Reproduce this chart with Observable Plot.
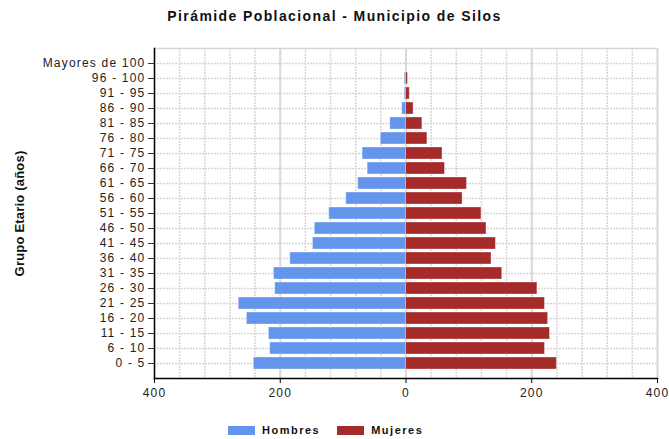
<!DOCTYPE html>
<html><head><meta charset="utf-8">
<script src="https://cdn.jsdelivr.net/npm/d3@7"></script>
<script src="https://cdn.jsdelivr.net/npm/@observablehq/plot@0.6"></script>
<style>
body{margin:0;background:#fff;font-family:"Liberation Sans",Arial,sans-serif;}
#wrap{position:relative;width:669px;height:439px;overflow:hidden;background:#fff}
#title{position:absolute;left:0;top:0;width:669px;height:32px;line-height:32px;text-align:center;font-weight:bold;font-size:14px;letter-spacing:1.4px;color:#111;}
#chart{position:absolute;left:0;top:32px}
#legend{position:absolute;left:228px;top:422px;height:16px;display:flex;align-items:center;font-weight:bold;font-size:11px;letter-spacing:1.5px;color:#111;white-space:nowrap}
.sw{width:27px;height:9px;display:inline-block}
#chart g[aria-label="text"] text{letter-spacing:0.2px}
</style></head>
<body>
<div id="wrap">
  <div id="title">Pirámide Poblacional - Municipio de Silos</div>
  <div id="chart"></div>
  <div id="legend"></div>
</div>
<script>
const groups = ["0 - 5","6 - 10","11 - 15","16 - 20","21 - 25","26 - 30","31 - 35","36 - 40","41 - 45","46 - 50","51 - 55","56 - 60","61 - 65","66 - 70","71 - 75","76 - 80","81 - 85","86 - 90","91 - 95","96 - 100","Mayores de 100"];
const hombres = [242,216,218,253,266,208,210,184,148,145,122,95,76,61,69,40,25,6,2,2,0];
const mujeres = [240,221,229,226,221,209,153,136,143,128,120,90,97,62,58,34,26,12,6,3,0];
const series = ["Hombres","Mujeres"];
const colors = ["#6495ED","#A52A2A"];
const xTicks = [-400,-200,0,200,400];

const data = groups.flatMap((g,i)=>[
  {group:g, sexo:series[0], value:-hombres[i]},
  {group:g, sexo:series[1], value:mujeres[i]}
]);

const chart = Plot.plot({
  width:669, height:378,
  marginTop:16, marginBottom:32, marginLeft:154, marginRight:12,
  style:{fontFamily:"'Liberation Sans', Arial, sans-serif", fontSize:"12px", color:"#222", letterSpacing:"1.2px", background:"#fff", overflow:"visible"},
  x:{domain:[-400,400]},
  y:{domain:groups.slice().reverse(), paddingInner:0.2, paddingOuter:0.5},
  color:{domain:series, range:colors},
  marks:[
    Plot.gridX({ticks:d3.range(-400,401,40), stroke:"#d6d6d6", strokeOpacity:1, strokeDasharray:"2,1", strokeWidth:1.5}),
    Plot.gridX({ticks:[-200,0,200,400], stroke:"#d9d9d9", strokeOpacity:1, strokeWidth:2}),
    Plot.gridY({stroke:"#d6d6d6", strokeOpacity:1, strokeDasharray:"2,1", strokeWidth:1.5}),
    Plot.frame({anchor:"top", stroke:"#d6d6d6", strokeDasharray:"2,1", strokeWidth:1.5}),
    Plot.barX(data, {x:"value", y:"group", fill:"sexo", stroke:"#fff", strokeOpacity:0.35}),
    Plot.axisX({ticks:xTicks, tickFormat:d=>Math.abs(d), tickSize:5, tickPadding:5, label:null, stroke:"#000"}),
    Plot.axisY({tickSize:6, tickPadding:3, label:null, stroke:"#333"}),
    Plot.frame({anchor:"left", stroke:"#000", strokeWidth:1.5}),
    Plot.frame({anchor:"bottom", stroke:"#000", strokeWidth:1.5}),
    Plot.text(["Grupo Etario (años)"], {frameAnchor:"left", textAnchor:"middle", dx:-135, rotate:-90, fontWeight:"bold", fontSize:13, fill:"#111"})
  ]
});
document.getElementById("chart").appendChild(chart);

const legend = document.getElementById("legend");
series.forEach((s,i)=>{
  const sw = document.createElement("span");
  sw.className = "sw"; sw.style.background = colors[i];
  sw.style.marginRight = "7px";
  const t = document.createElement("span");
  t.textContent = s;
  if (i === 0) t.style.marginRight = "17px";
  legend.appendChild(sw); legend.appendChild(t);
});
</script>
</body></html>
